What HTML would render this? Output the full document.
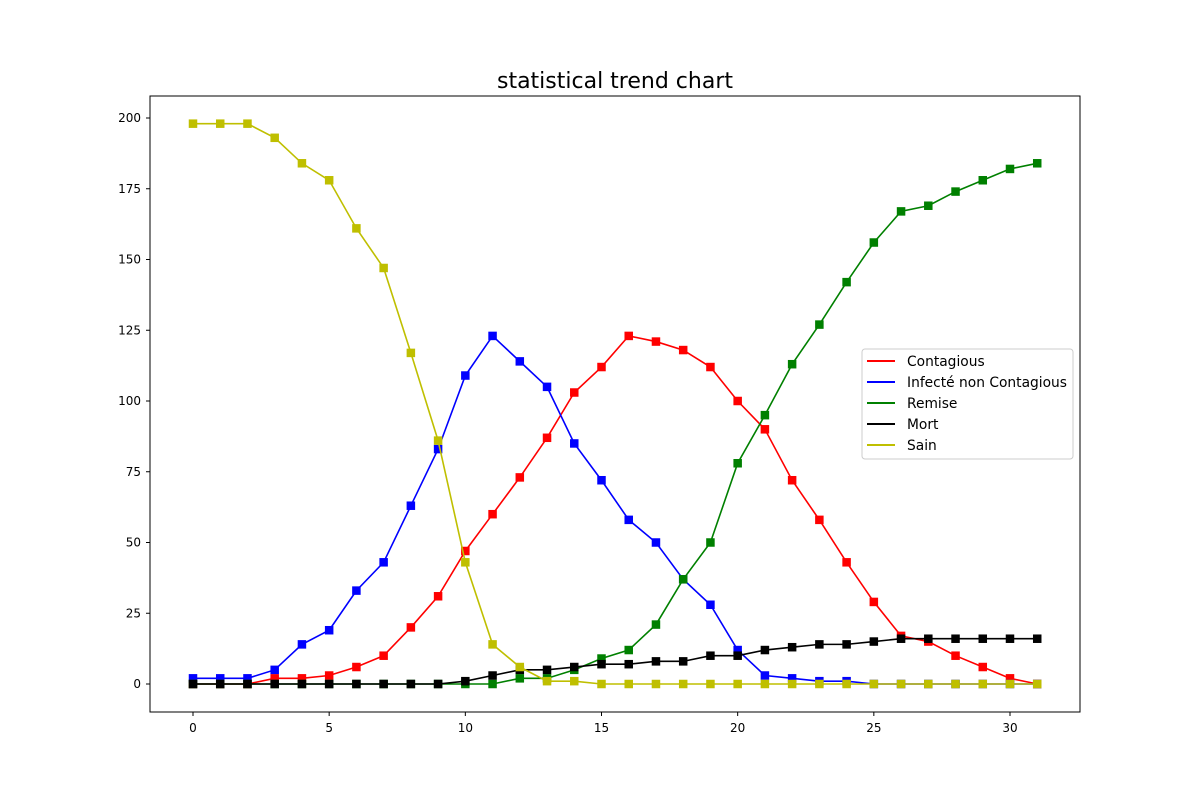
<!DOCTYPE html>
<html><head><meta charset="utf-8"><style>
body{margin:0;background:#fff;}
svg text{font-family:"DejaVu Sans","Liberation Sans",sans-serif;}
</style></head><body>
<svg id="chart" width="1200" height="800" xmlns="http://www.w3.org/2000/svg">
<rect width="1200" height="800" fill="#fff"/>
<text x="615" y="88" font-size="22" text-anchor="middle">statistical trend chart</text>
<g id="ticks"></g>
<g id="series"></g>
<rect x="150" y="96" width="930" height="616" fill="none" stroke="#000" stroke-width="1"/>
<g id="legend"></g>
</svg>
<script>
const days = Array.from({length:32},(_, i)=>i);
const contagious = [0,0,0,2,2,3,6,10,20,31,47,60,73,87,103,112,123,121,118,112,100,90,72,58,43,29,17,15,10,6,2,0];
const infecte = [2,2,2,5,14,19,33,43,63,83,109,123,114,105,85,72,58,50,37,28,12,3,2,1,1,0,0,0,0,0,0,0];
const remise = [0,0,0,0,0,0,0,0,0,0,0,0,2,2,5,9,12,21,37,50,78,95,113,127,142,156,167,169,174,178,182,184];
const mort = [0,0,0,0,0,0,0,0,0,0,1,3,5,5,6,7,7,8,8,10,10,12,13,14,14,15,16,16,16,16,16,16];
const sain = [198,198,198,193,184,178,161,147,117,86,43,14,6,1,1,0,0,0,0,0,0,0,0,0,0,0,0,0,0,0,0,0];
const xTicks = [0,5,10,15,20,25,30];
const yTicks = [0,25,50,75,100,125,150,175,200];
const seriesNames = ["Contagious","Infecté non Contagious","Remise","Mort","Sain"];
const seriesColors = ["#ff0000","#0000ff","#008000","#000000","#bfbf00"];
const seriesData = [contagious,infecte,remise,mort,sain];

const NS="http://www.w3.org/2000/svg";
const xs = v => 193 + v*(1010-193)/30;
const ys = v => 684 - v*(684-118)/200;
function mk(t,a,p){const e=document.createElementNS(NS,t);for(const k in a)e.setAttribute(k,a[k]);p.appendChild(e);return e;}
const tk=document.getElementById('ticks');
xTicks.forEach(t=>{
  const l=mk('line',{x1:xs(t),x2:xs(t),y1:712,y2:716,stroke:'#000'},tk);
  
  
  const tx=mk('text',{x:xs(t),y:732,'font-size':12,'text-anchor':'middle'},tk);tx.textContent=t;
  
  
});
yTicks.forEach(t=>{
  const l=mk('line',{x1:146,x2:150,y1:ys(t),y2:ys(t),stroke:'#000'},tk);
  
  
  const tx=mk('text',{x:141,y:ys(t)+4,'font-size':12,'text-anchor':'end'},tk);tx.textContent=t;
  
  
});
const sg=document.getElementById('series');
seriesData.forEach((d,i)=>{
  const g=mk('g',{},sg);
  
  
  const pl=mk('polyline',{points:d.map((v,j)=>xs(days[j])+','+ys(v)).join(' '),fill:'none',stroke:seriesColors[i],'stroke-width':1.6},g);
  
  
  d.forEach((v,j)=>{
    const r=mk('rect',{x:xs(days[j])-4.25,y:ys(v)-4.25,width:8.5,height:8.5,fill:seriesColors[i]},g);
    
    
  });
});
const lg=document.getElementById('legend');
mk('rect',{x:862,y:349,width:211,height:110,rx:3,fill:'#fff','fill-opacity':0.8,stroke:'#ccc'},lg);
seriesNames.forEach((n,i)=>{
  const y=361+i*21;
  const l=mk('line',{x1:867,x2:895,y1:y,y2:y,stroke:seriesColors[i],'stroke-width':2},lg);
  
  
  const t=mk('text',{x:907,y:y+5,'font-size':13.8},lg);t.textContent=n;
  
  
});
</script>
</body></html>
